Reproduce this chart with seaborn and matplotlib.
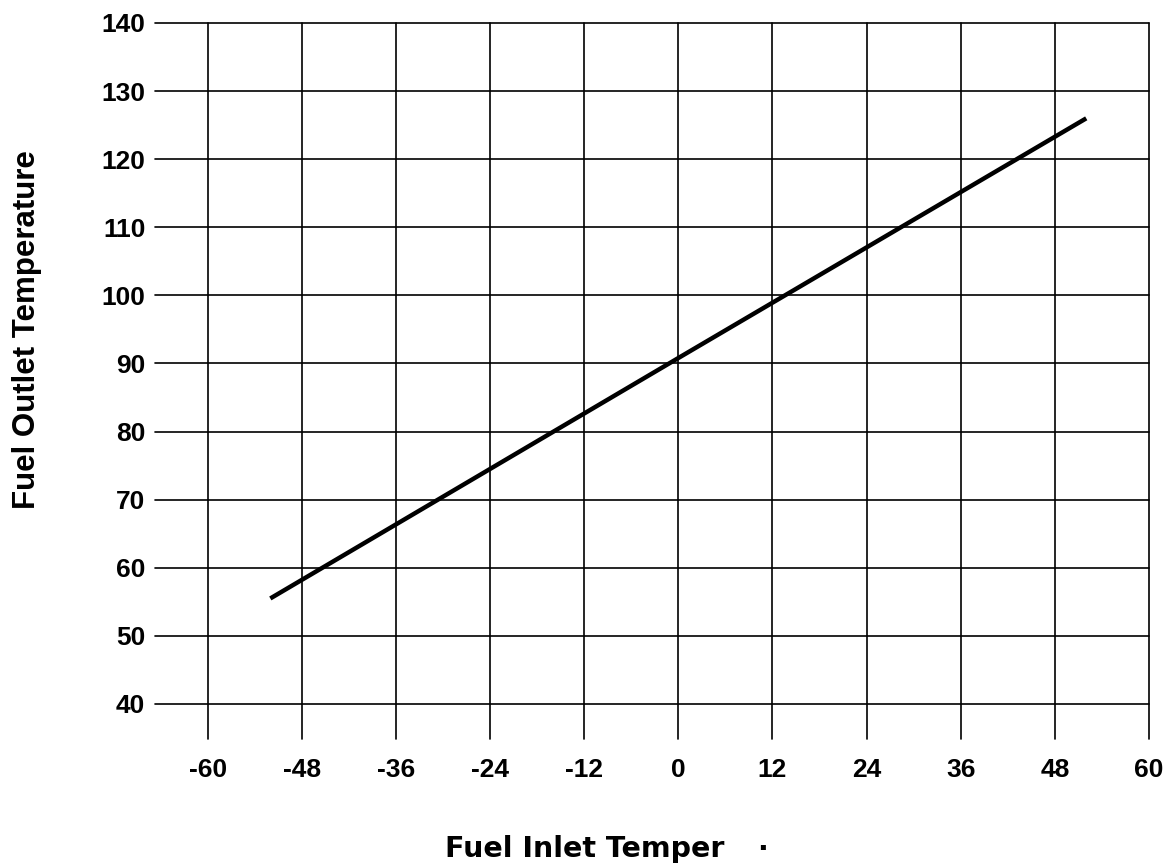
import matplotlib
matplotlib.use('Agg')
import matplotlib.pyplot as plt
import seaborn as sns
import numpy as np

# values
inlet_temp = [-52, 0, 52]
outlet_temp = [55.5, 90.8, 126.0]
x_ticks = [-60, -48, -36, -24, -12, 0, 12, 24, 36, 48, 60]
y_ticks = [40, 50, 60, 70, 80, 90, 100, 110, 120, 130, 140]
x_label = "Fuel Inlet Temper"
y_label = "Fuel Outlet Temperature"

sns.set_style('white')
plt.rcParams['font.family'] = ['Liberation Sans', 'DejaVu Sans']
plt.rcParams['axes.unicode_minus'] = False
plt.rcParams['text.color'] = 'black'
plt.rcParams['axes.labelcolor'] = 'black'
plt.rcParams['xtick.color'] = 'black'
plt.rcParams['ytick.color'] = 'black'

W, H = 1169, 865
fig = plt.figure(figsize=(W / 100, H / 100), dpi=100)
# axes box in pixels: left 155, right 1149, top 23, bottom 739
ax = fig.add_axes([155 / W, 1 - 739 / H, (1149 - 155) / W, (739 - 23) / H])

sns.lineplot(x=inlet_temp, y=outlet_temp, color='black', linewidth=3.2,
             solid_capstyle='butt', ax=ax)

ax.set_xlim(-66.7, 60)
ax.set_ylim(34.86, 140)
ax.set_xticks(x_ticks)
ax.set_yticks(y_ticks)
ax.grid(True, color='black', linewidth=1.2)
for gl in ax.get_xgridlines() + ax.get_ygridlines():
    gl.set_clip_on(False)
ax.set_axisbelow(True)
for s in ax.spines.values():
    s.set_visible(False)

ax.tick_params(axis='both', length=0, labelsize=19, labelcolor='black')
ax.tick_params(axis='x', pad=13.5)
ax.tick_params(axis='y', pad=7)
for lab in ax.get_xticklabels() + ax.get_yticklabels():
    lab.set_fontweight('bold')

ax.set_ylabel(y_label, fontsize=22.5, fontweight='bold', va='center')
ax.yaxis.set_label_coords((27 - 155) / 994, (739 - 330) / 716)

ax.set_xlabel(x_label, fontsize=20.5, fontweight='bold', family='DejaVu Sans',
              ha='left', va='baseline')
ax.xaxis.set_label_coords((445 - 155) / 994, (739 - 857) / 716)
fig.text(757 / W, 1 - 857 / H, "\u00b7", fontsize=20.5, fontweight='bold',
         family='DejaVu Sans', ha='left', va='baseline')

fig.savefig('out.png', dpi=100, facecolor='white')
